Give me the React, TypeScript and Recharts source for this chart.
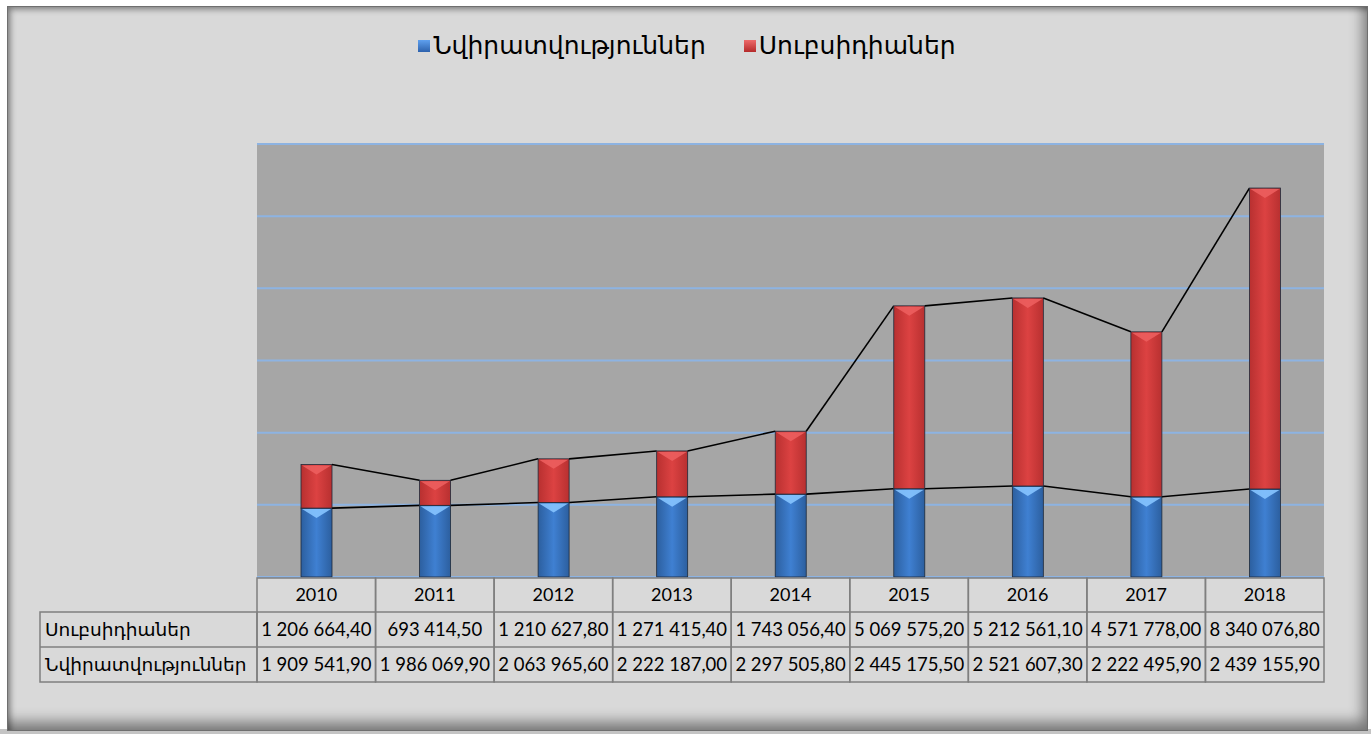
import { BarChart, Bar, XAxis, YAxis, CartesianGrid } from "recharts";

const years = ["2010", "2011", "2012", "2013", "2014", "2015", "2016", "2017", "2018"];
const donations = [1909541.9, 1986069.9, 2063965.6, 2222187.0, 2297505.8, 2445175.5, 2521607.3, 2222495.9, 2439155.9];
const subsidies = [1206664.4, 693414.5, 1210627.8, 1271415.4, 1743056.4, 5069575.2, 5212561.1, 4571778.0, 8340076.8];
const donationsLabel = "Նվիրատվություններ";
const subsidiesLabel = "Սուբսիդիաներ";
const yTicks = [0, 2000000, 4000000, 6000000, 8000000, 10000000, 12000000];

const data = years.map((year, i) => ({
  year,
  donations: donations[i],
  subsidies: subsidies[i],
}));

const CHART_W = 1358;
const CHART_H = 724;
const MARGIN = { top: 137, right: 42, bottom: 44, left: 249 };
const PLOT_W = CHART_W - MARGIN.left - MARGIN.right;
const STEP = PLOT_W / years.length;

const fmt = (v: number) => {
  const [int, dec] = v.toFixed(2).split(".");
  return int.replace(/\B(?=(\d{3})+(?!\d))/g, " ") + "," + dec;
};

const NUM_FONT = "Lato, 'DejaVu Sans', sans-serif";
const ARM_FONT = "'DejaVu Sans', sans-serif";

// bevelled bar segment + series line to the next column
function makeShape(kind: "blue" | "red") {
  return (props: any) => {
    const { x, y, width, height, index } = props;
    if (!height || height <= 0) return <g />;
    const d = donations[index];
    const s = subsidies[index];
    const value = kind === "blue" ? d : s;
    const k = height / value;
    const base = kind === "blue" ? y + height : y + height + d * k;
    const hasNext = index + 1 < years.length;
    const nextTop = hasNext
      ? base - (kind === "blue" ? donations[index + 1] : donations[index + 1] + subsidies[index + 1]) * k
      : 0;
    const bev = Math.min(8, height / 2);
    const facet = kind === "blue" ? "#86c4ff" : "#ec5e5e";
    return (
      <g>
        <rect x={x} y={y} width={width} height={height} fill={`url(#grad-${kind})`} stroke="#1e2a3a" strokeWidth={0.8} />
        <polygon
          points={`${x + 1},${y + 1} ${x + width - 1},${y + 1} ${x + width / 2},${y + bev + 2}`}
          fill={facet}
          opacity={0.9}
        />
        {hasNext && (
          <line x1={x + width} y1={y} x2={x + STEP} y2={nextTop} stroke="#000" strokeWidth={1.6} />
        )}
      </g>
    );
  };
}

// data table drawn as the category axis
function TableTick(props: any) {
  const { x, y, payload } = props;
  const i = payload.index;
  const left = x - STEP / 2;
  const top = y + 1;
  const rowH = [34, 35, 35];
  const r1 = top + rowH[0];
  const r2 = r1 + rowH[1];
  const bottom = r2 + rowH[2];
  const stroke = "#7f7f7f";
  const labelLeft = 32;
  return (
    <g>
      {i === 0 && (
        <g>
          <rect x={labelLeft} y={r1} width={left - labelLeft} height={rowH[1] + rowH[2]} fill="none" stroke={stroke} strokeWidth={1.5} />
          <line x1={labelLeft} y1={r2} x2={left} y2={r2} stroke={stroke} strokeWidth={1.5} />
          <text x={labelLeft + 5} y={r1 + 24} fontSize={18.5} fontFamily={ARM_FONT} fill="#000">{subsidiesLabel}</text>
          <text x={labelLeft + 5} y={r2 + 24} fontSize={18.5} fontFamily={ARM_FONT} fill="#000">{donationsLabel}</text>
        </g>
      )}
      <rect x={left} y={top} width={STEP} height={bottom - top} fill="none" stroke={stroke} strokeWidth={1.5} />
      <line x1={left} y1={r1} x2={left + STEP} y2={r1} stroke={stroke} strokeWidth={1.5} />
      <line x1={left} y1={r2} x2={left + STEP} y2={r2} stroke={stroke} strokeWidth={1.5} />
      <text x={x} y={top + 23} textAnchor="middle" fontSize={18} fontFamily={NUM_FONT} fill="#000">{years[i]}</text>
      <text x={x} y={r1 + 24} textAnchor="middle" fontSize={18.5} fontFamily={NUM_FONT} fill="#000">{fmt(subsidies[i])}</text>
      <text x={x} y={r2 + 24} textAnchor="middle" fontSize={18.5} fontFamily={NUM_FONT} fill="#000">{fmt(donations[i])}</text>
    </g>
  );
}

export default function App() {
  return (
    <div style={{ position: "absolute", left: 0, top: 0, width: 1371, height: 734, background: "#fff", overflow: "hidden" }}>
      <div style={{ position: "absolute", left: 0, top: 729, width: 1371, height: 5, background: "#c4c4c4" }} />
      <div
        style={{
          position: "absolute",
          left: 7,
          top: 6,
          width: 1359,
          height: 723,
          background: "#d9d9d9",
          border: "1px solid #6f6f6f",
          boxShadow: "inset -8px -12px 14px -4px rgba(0,0,0,0.45), inset 4px 4px 6px -2px rgba(0,0,0,0.45)",
        }}
      />
      <div
        style={{
          position: "absolute",
          left: 8,
          top: 31,
          width: CHART_W,
          display: "flex",
          justifyContent: "center",
          alignItems: "center",
          fontFamily: ARM_FONT,
          fontSize: 25,
          color: "#000",
        }}
      >
        <span style={{ display: "inline-flex", alignItems: "center", marginRight: 38 }}>
          <span style={{ width: 12, height: 12, background: "linear-gradient(#5fa0ee, #2d62ad)", marginRight: 3 }} />
          {donationsLabel}
        </span>
        <span style={{ display: "inline-flex", alignItems: "center" }}>
          <span style={{ width: 12, height: 12, background: "linear-gradient(#ee6a6a, #b52a2a)", marginRight: 3 }} />
          {subsidiesLabel}
        </span>
      </div>
      <div style={{ position: "absolute", left: 8, top: 7 }}>
        <BarChart width={CHART_W} height={CHART_H} data={data} margin={MARGIN} barSize={31}>
          <defs>
            <linearGradient id="grad-blue" x1="0" y1="0" x2="1" y2="0">
              <stop offset="0%" stopColor="#2c5f9f" />
              <stop offset="50%" stopColor="#3f80d2" />
              <stop offset="100%" stopColor="#2c5f9f" />
            </linearGradient>
            <linearGradient id="grad-red" x1="0" y1="0" x2="1" y2="0">
              <stop offset="0%" stopColor="#b83030" />
              <stop offset="50%" stopColor="#dc4242" />
              <stop offset="100%" stopColor="#b83030" />
            </linearGradient>
          </defs>
          <CartesianGrid vertical={false} stroke="#8db3e2" strokeWidth={2} fill="#a6a6a6" />
          <XAxis
            dataKey="year"
            height={110}
            axisLine={false}
            tickLine={false}
            tickSize={0}
            tickMargin={0}
            interval={0}
            tick={<TableTick />}
          />
          <YAxis hide domain={[0, 12000000]} ticks={yTicks} />
          <Bar dataKey="donations" stackId="a" isAnimationActive={false} shape={makeShape("blue")} />
          <Bar dataKey="subsidies" stackId="a" isAnimationActive={false} shape={makeShape("red")} />
        </BarChart>
      </div>
    </div>
  );
}
